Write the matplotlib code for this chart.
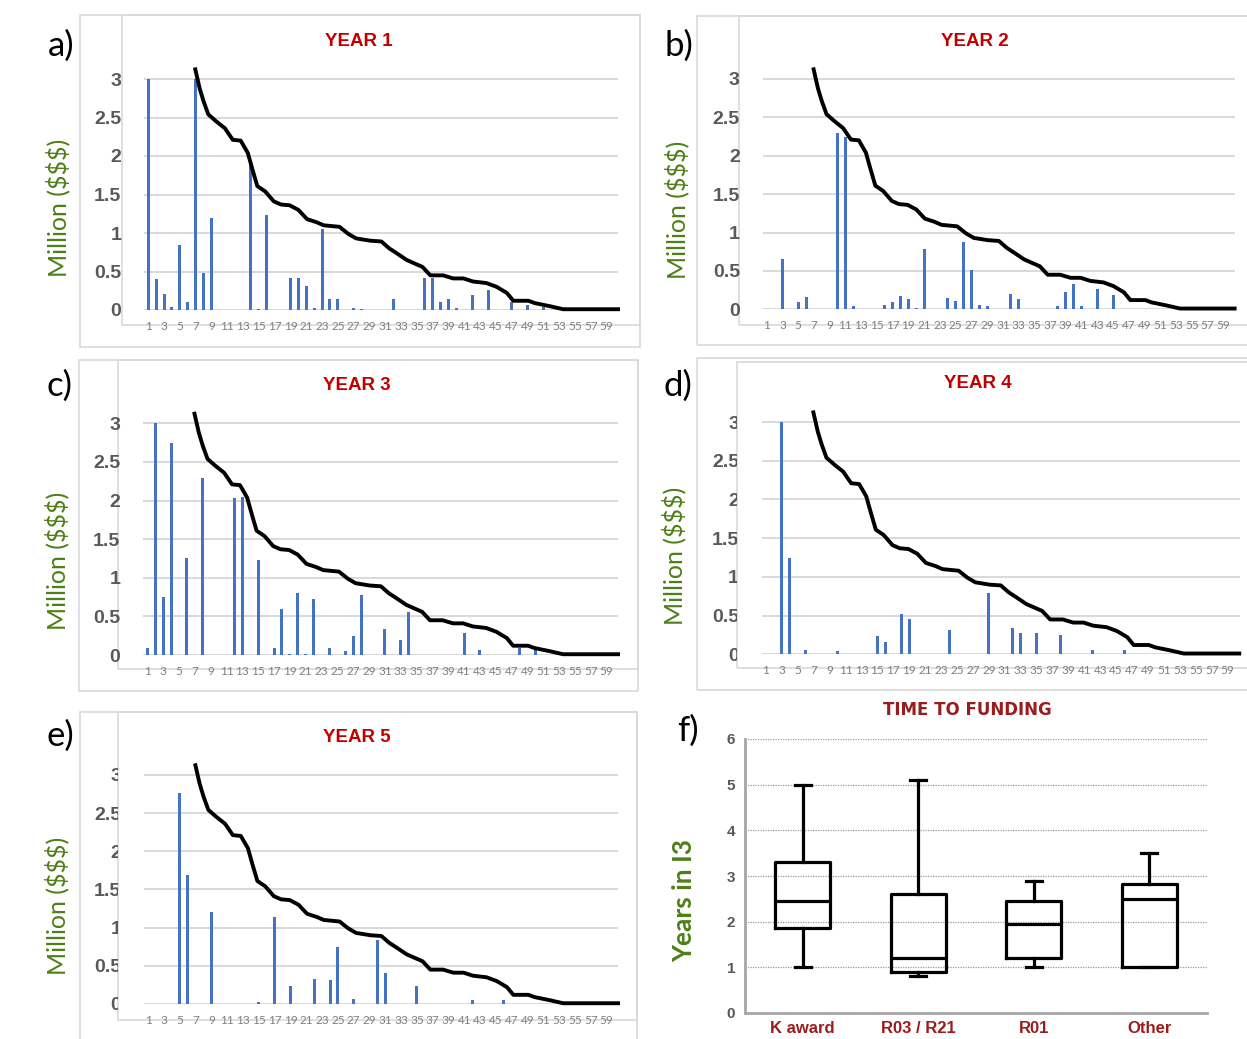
import matplotlib
matplotlib.use("Agg")
import matplotlib.pyplot as plt
from matplotlib.patches import Rectangle
from matplotlib.transforms import Bbox, TransformedBbox

plt.rcParams['font.family'] = ['Lato', 'DejaVu Sans']
BOLD_FONT = ['Liberation Sans', 'DejaVu Sans']

W, H = 1247, 1039

# funding per month, only the months that have a bar (million $)
year1_months = [1, 2, 3, 4, 5, 6, 7, 8, 9, 14, 15, 16, 19, 20, 21, 22, 23, 24, 25, 27, 28,
                32, 33, 36, 37, 38, 39, 40, 42, 44, 47, 49, 51]
year1_amount = [3.0, 0.40, 0.21, 0.04, 0.84, 0.10, 3.0, 0.48, 1.19, 1.88, 0.01, 1.24, 0.42,
                0.42, 0.31, 0.02, 1.05, 0.14, 0.14, 0.03, 0.01, 0.14, 0.005, 0.42, 0.42, 0.10,
                0.14, 0.03, 0.20, 0.26, 0.10, 0.06, 0.04]

year2_months = [3, 5, 6, 10, 11, 12, 16, 17, 18, 19, 20, 21, 24, 25, 26, 27, 28, 29, 32, 33,
                38, 39, 40, 41, 43, 45]
year2_amount = [0.66, 0.09, 0.16, 2.29, 2.25, 0.04, 0.05, 0.09, 0.17, 0.13, 0.02, 0.79, 0.15,
                0.11, 0.88, 0.51, 0.05, 0.04, 0.20, 0.13, 0.04, 0.23, 0.33, 0.04, 0.26, 0.19]

year3_months = [1, 2, 3, 4, 6, 8, 12, 13, 15, 17, 18, 19, 20, 21, 22, 24, 26, 27, 28, 31, 33,
                34, 41, 43, 48, 50]
year3_amount = [0.095, 3.0, 0.75, 2.74, 1.26, 2.29, 2.04, 2.05, 1.23, 0.095, 0.59, 0.015, 0.80,
                0.01, 0.73, 0.09, 0.05, 0.25, 0.78, 0.34, 0.20, 0.56, 0.28, 0.06, 0.09, 0.06]

year4_months = [3, 4, 6, 10, 15, 16, 18, 19, 24, 29, 32, 33, 35, 38, 42, 46]
year4_amount = [3.0, 1.25, 0.05, 0.04, 0.23, 0.16, 0.52, 0.45, 0.32, 0.79, 0.34, 0.28, 0.28,
                0.25, 0.056, 0.05]

year5_months = [5, 6, 9, 15, 17, 19, 22, 24, 25, 27, 30, 31, 35, 42, 46]
year5_amount = [2.76, 1.69, 1.21, 0.026, 1.14, 0.24, 0.33, 0.31, 0.75, 0.065, 0.84, 0.41,
                0.24, 0.057, 0.05]

# black reference curve (same in every year panel)
curve_x = [6.9, 7.5, 8.0, 8.6, 9.6, 10.7, 11.7, 12.7, 13.6, 14.2, 14.8, 15.8, 16.9, 17.8,
           18.9, 20.0, 21.1, 22.3, 23.2, 25.2, 26.3, 27.3, 29.1, 30.5, 31.5, 32.4, 33.7,
           34.8, 35.7, 36.7, 38.3, 39.6, 40.9, 42.1, 43.8, 45.1, 46.4, 47.2, 49.1, 49.9,
           51.8, 53.5, 60.7]
curve_y = [3.15, 2.88, 2.71, 2.54, 2.45, 2.36, 2.21, 2.20, 2.04, 1.82, 1.61, 1.54, 1.41,
           1.37, 1.36, 1.30, 1.18, 1.14, 1.10, 1.08, 0.99, 0.93, 0.90, 0.89, 0.80, 0.74,
           0.65, 0.60, 0.56, 0.45, 0.45, 0.41, 0.41, 0.37, 0.35, 0.30, 0.22, 0.12, 0.12,
           0.09, 0.05, 0.01, 0.01]

years = ["YEAR 1", "YEAR 2", "YEAR 3", "YEAR 4", "YEAR 5"]
month_ticks = list(range(1, 60, 2))

# time to funding box plot
groups = ["K award", "R03 / R21", "R01", "Other"]
whis_lo = [1.0, 0.81, 1.0, 1.0]
q1 = [1.87, 0.905, 1.2, 1.0]
med = [2.45, 1.21, 1.95, 2.495]
q3 = [3.30, 2.60, 2.45, 2.815]
whis_hi = [5.0, 5.1, 2.9, 3.5]

BAR = "#4472C4"
GRID = "#D9D9D9"
TICK = "#595959"
GREEN = "#4D7F17"
RED = "#C00000"
DARKRED = "#9B1C1C"

fig = plt.figure(figsize=(W / 100, H / 100), dpi=100)


def box(x0, y0, x1, y1):
    fig.add_artist(Rectangle((x0 / W, 1 - y1 / H), (x1 - x0) / W, (y1 - y0) / H,
                             transform=fig.transFigure, fill=False,
                             edgecolor=GRID, lw=1.2, zorder=0))


def add_ax(left, bottom, width, height):
    return fig.add_axes([left / W, 1 - bottom / H, width / W, height / H])


# panel layout in pixels: plot-area left, y of zero line, width, px per million,
# outer box, inner box, panel letter, title pos, ylabel pos, clip label
panels = [
    (144.3, 310.0, 474.1, 77.0, (80, 15, 640, 347), (122, 15, 640, 325), "a)", (61, 46),
     (359, 42), (58, 208), False),
    (762.8, 309.3, 472.2, 76.8, (697, 16, 1260, 345), (739, 16, 1260, 325), "b)", (679, 46),
     (975, 42), (677, 210), False),
    (143.4, 655.0, 475.0, 77.2, (79, 360, 638, 691), (118, 360, 638, 669), "c)", (60, 386),
     (357, 386), (57, 561), False),
    (762.0, 654.3, 477.6, 77.4, (697, 358, 1260, 690), (737, 362, 1260, 668), "d)", (678, 386),
     (978, 384), (674, 556), True),
    (144.4, 1004.0, 474.0, 76.4, (80, 712, 637, 1060), (118, 712, 637, 1020), "e)", (60, 736),
     (357, 737), (57, 906), True),
]
bar_data = [(year1_months, year1_amount), (year2_months, year2_amount),
            (year3_months, year3_amount), (year4_months, year4_amount),
            (year5_months, year5_amount)]

for i, p in enumerate(panels):
    left, zero, width, unit, outer, inner, letter, lpos, tpos, ypos, clip = p
    box(*outer)
    box(*inner)
    ax = add_ax(left, zero, width, 3.2 * unit)
    ax.patch.set_alpha(0)
    months, amount = bar_data[i]
    ax.bar(months, amount, width=0.38, color=BAR, zorder=2)
    ax.plot(curve_x, curve_y, color="black", lw=2.8, solid_joinstyle="round",
            solid_capstyle="butt", zorder=3, clip_on=False)
    ax.set_xlim(0.5, 60.5)
    ax.set_ylim(0, 3.2)
    ax.set_yticks([0, 0.5, 1, 1.5, 2, 2.5, 3])
    ax.set_yticklabels(["0", "0.5", "1", "1.5", "2", "2.5", "3"])
    ax.set_xticks(month_ticks)
    ax.set_xticklabels([str(m) for m in month_ticks])
    ax.yaxis.grid(True, color=GRID, lw=1.4)
    ax.set_axisbelow(True)
    for s in ax.spines.values():
        s.set_visible(False)
    ax.tick_params(axis="y", length=0, pad=16.5, labelsize=14, labelcolor=TICK)
    ax.tick_params(axis="x", length=0, pad=8, labelsize=8.5, labelcolor="#7F7F7F")
    for lab in ax.get_yticklabels():
        lab.set_fontweight("bold")
        lab.set_family(BOLD_FONT)
        if clip:
            lab.set_clip_on(True)
            lab.set_clip_box(TransformedBbox(Bbox([[0, 0], [inner[0] / W, 1]]),
                                             fig.transFigure))
    fig.text(lpos[0] / W, 1 - lpos[1] / H, letter, fontsize=25, ha="center", va="center")
    fig.text(tpos[0] / W, 1 - tpos[1] / H, years[i], fontsize=13.5, fontweight="bold",
             color=RED, ha="center", va="center", family=BOLD_FONT)
    fig.text(ypos[0] / W, 1 - ypos[1] / H, "Million ($$$)", fontsize=18, color=GREEN,
             rotation=90, ha="center", va="center")

# panel f
axf = add_ax(745, 1013, 462, 274)
stats = []
for i, g in enumerate(groups):
    stats.append(dict(label=g, whislo=whis_lo[i], q1=q1[i], med=med[i], q3=q3[i],
                      whishi=whis_hi[i], fliers=[]))
lprops = dict(color="black", lw=2.3)
axf.bxp(stats, positions=[1, 2, 3, 4], widths=0.48, capwidths=0.14, showfliers=False,
        boxprops=lprops, whiskerprops=lprops, capprops=lprops, medianprops=lprops,
        manage_ticks=False)
axf.set_xlim(0.5, 4.5)
axf.set_ylim(0, 6)
axf.set_yticks(range(0, 7))
axf.set_xticks([])
axf.yaxis.grid(True, color="#9A9A9A", lw=0.9, ls=(0, (1, 1)))
axf.set_axisbelow(True)
axf.spines["top"].set_visible(False)
axf.spines["right"].set_visible(False)
for s in ("left", "bottom"):
    axf.spines[s].set_color("#A6A6A6")
    axf.spines[s].set_linewidth(2)
axf.tick_params(axis="y", length=0, pad=7, labelsize=11, labelcolor=TICK)
for lab in axf.get_yticklabels():
    lab.set_fontweight("bold")
    lab.set_family(BOLD_FONT)
for i, g in enumerate(groups):
    axf.text(i + 1, -0.17, g, transform=axf.transData, ha="center", va="top",
             fontsize=12, fontweight="bold", color=DARKRED, clip_on=False,
             family=BOLD_FONT)

fig.text(967 / W, 1 - 710 / H, "TIME TO FUNDING", fontsize=12, fontweight="bold",
         color=DARKRED, ha="center", va="center", family="DejaVu Sans")
fig.text(684 / W, 1 - 900 / H, "Years in I3", fontsize=19, fontweight="bold",
         color=GREEN, rotation=90, ha="center", va="center")
fig.text(688 / W, 1 - 731 / H, "f)", fontsize=25, ha="center", va="center")

fig.savefig("out.png", dpi=100)
